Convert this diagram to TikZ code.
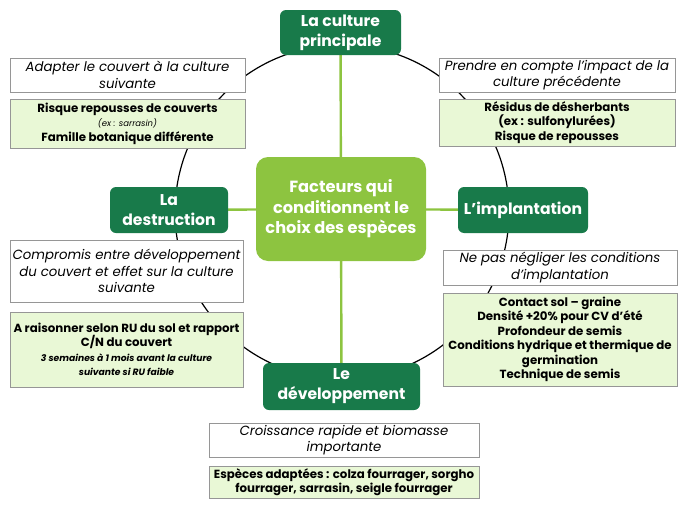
\documentclass[tikz,border=0pt]{standalone}
\usepackage{fontspec}
\setmainfont{Poppins}
\usetikzlibrary{backgrounds}
\definecolor{dkgreen}{RGB}{24,122,74}
\definecolor{ltgreen}{RGB}{141,196,64}
\definecolor{palegreen}{RGB}{233,248,214}
\definecolor{boxgray}{RGB}{150,150,150}
\newcommand{\smallitfont}{\mdseries\itshape\fontsize{8.5}{12}\selectfont}
\newcommand{\tinyitfont}{\bfseries\itshape\fontsize{9.2}{13.5}\selectfont}
\begin{document}
\begin{tikzpicture}[x=1pt,y=-1pt,
  mainbox/.style={fill=dkgreen, text=white, rounded corners=6pt, inner sep=0pt, align=center,
    font=\bfseries\fontsize{15.6}{20}\selectfont},
  hubbox/.style={fill=ltgreen, text=white, rounded corners=12pt, inner sep=0pt, align=center,
    font=\bfseries\fontsize{16.2}{20.5}\selectfont},
  notebox/.style={draw=boxgray, fill=white, inner sep=0pt, align=center, line width=0.8pt,
    font=\itshape\fontsize{13.3}{16.5}\selectfont},
  detailbox/.style={draw=boxgray, fill=palegreen, inner sep=0pt, align=center, line width=0.8pt,
    font=\bfseries\fontsize{11.8}{14.5}\selectfont},
  ring/.style={draw=black, line width=1.2pt},
  hubline/.style={draw=ltgreen, line width=2.4pt}]
\useasboundingbox (0,0) rectangle (690,506);

% main nodes
\node[mainbox, minimum width=121pt, minimum height=45pt] (top) at (340.5,32.5) {La culture\\principale};
\node[mainbox, minimum width=118pt, minimum height=46pt] (left) at (169,210) {La\\destruction};
\node[mainbox, minimum width=130pt, minimum height=46pt] (right) at (523,210) {L'implantation};
\node[mainbox, minimum width=157pt, minimum height=47pt] (bottom) at (341.5,386.5) {Le\\développement};
\node[hubbox, minimum width=170pt, minimum height=104pt] (hub) at (341,209) {Facteurs qui\\conditionnent le\\choix des espèces};

% notes and details
\node[notebox, minimum width=235pt, minimum height=34pt] (n1) at (127.5,75) {Adapter le couvert à la culture\\suivante};
\node[detailbox, minimum width=235pt, minimum height=49pt] (d1) at (127.5,123.5)
  {Risque repousses de couverts\\\smallitfont (ex : sarrasin)\\\bfseries\upshape\fontsize{11.8}{14.5}\selectfont Famille botanique différente};
\node[notebox, minimum width=236pt, minimum height=34pt] (n2) at (557,75) {Prendre en compte l'impact de la\\culture précédente};
\node[detailbox, minimum width=236pt, minimum height=47pt] (d2) at (557,122.5)
  {Résidus de désherbants\\(ex : sulfonylurées)\\Risque de repousses};
\node[notebox, minimum width=233pt, minimum height=62pt] (n3) at (126.5,271)
  {Compromis entre développement\\du couvert et effet sur la culture\\suivante};
\node[detailbox, minimum width=233pt, minimum height=75pt] (d3) at (126.5,349.5)
  {A raisonner selon RU du sol et rapport\\C/N du couvert\\\tinyitfont 3 semaines à 1 mois avant la culture\\\tinyitfont suivante si RU faible};
\node[notebox, minimum width=234pt, minimum height=35pt] (n4) at (560,267.5) {Ne pas négliger les conditions\\d'implantation};
\node[detailbox, minimum width=234pt, minimum height=93pt] (d4) at (560,339.5)
  {Contact sol – graine\\Densité +20\% pour CV d'été\\Profondeur de semis\\Conditions hydrique et thermique de\\germination\\Technique de semis};
\node[notebox, minimum width=270pt, minimum height=34pt] (n5) at (344,440) {Croissance rapide et biomasse\\importante};
\node[detailbox, minimum width=270pt, minimum height=32pt, font=\bfseries\fontsize{11.8}{13.5}\selectfont] (d5) at (344,482)
  {Espèces adaptées : colza fourrager, sorgho\\fourrager, sarrasin, seigle fourrager};

\begin{pgfonlayer}{background}
  \coordinate (ringc) at (342,212);
  \draw[ring] (ringc) circle[radius=167];
  \draw[hubline] (hub) -- (top);
  \draw[hubline] (hub) -- (bottom);
  \draw[hubline] (hub) -- (left);
  \draw[hubline] (hub) -- (right);
\end{pgfonlayer}
\end{tikzpicture}
\end{document}
